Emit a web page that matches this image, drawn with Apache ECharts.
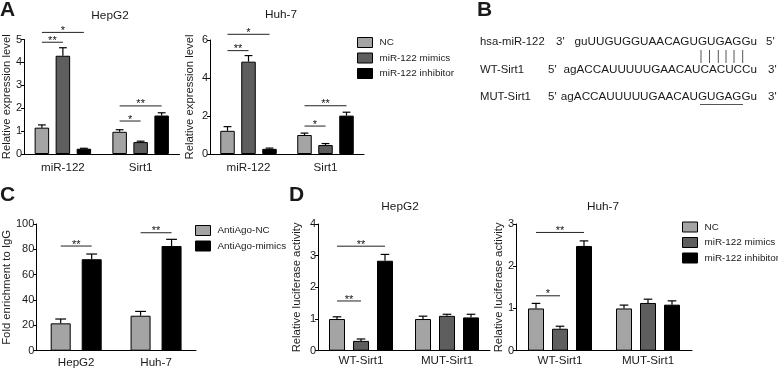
<!DOCTYPE html>
<html>
<head>
<meta charset="utf-8">
<script src="https://cdn.jsdelivr.net/npm/echarts@6/dist/echarts.min.js"></script>
<style>html,body{margin:0;padding:0;background:#fff}#main{width:778px;height:370px}</style>
</head>
<body>
<div id="main"></div>
<script>
var FONT = '"Liberation Sans", Arial, sans-serif';
var TXT = '#1a1a1a';
var GRAY = '#a4a4a4', DARK = '#5e5e5e', BLACK = '#000000';

// categories / names
var groupsA = ['miR-122', 'Sirt1'];
var groupsC = ['HepG2', 'Huh-7'];
var groupsD = ['WT-Sirt1', 'MUT-Sirt1'];
var namesA = ['NC', 'miR-122 mimics', 'miR-122 inhibitor'];
var namesC = ['AntiAgo-NC', 'AntiAgo-mimics'];

// A - HepG2 (mean, sd)
var aHepNC = [1.15, 0.97], aHepNCsd = [0.12, 0.09];
var aHepMim = [4.29, 0.52], aHepMimsd = [0.35, 0.04];
var aHepInh = [0.23, 1.68], aHepInhsd = [0.02, 0.12];
// A - Huh-7
var aHuhNC = [1.22, 1.0], aHuhNCsd = [0.22, 0.1];
var aHuhMim = [4.86, 0.47], aHuhMimsd = [0.32, 0.08];
var aHuhInh = [0.27, 2.02], aHuhInhsd = [0.04, 0.18];
// C
var cNC = [21.6, 27.6], cNCsd = [3.4, 3.4];
var cMim = [72.2, 82.6], cMimsd = [4.1, 5.3];
// D - HepG2
var dHepNC = [1.0, 1.0], dHepNCsd = [0.07, 0.09];
var dHepMim = [0.31, 1.1], dHepMimsd = [0.06, 0.05];
var dHepInh = [2.84, 1.05], dHepInhsd = [0.2, 0.1];
// D - Huh-7
var dHuhNC = [1.0, 1.0], dHuhNCsd = [0.12, 0.08];
var dHuhMim = [0.52, 1.13], dHuhMimsd = [0.06, 0.09];
var dHuhInh = [2.48, 1.09], dHuhInhsd = [0.12, 0.09];

// significance: [category, fromBar, toBar, y, stars]
var sigAHep = [[0, 0, 1, 4.88, 2], [0, 0, 2, 5.31, 1], [1, 0, 1, 1.44, 1], [1, 0, 2, 2.1, 2]];
var sigAHuh = [[0, 0, 1, 5.44, 2], [0, 0, 2, 6.3, 1], [1, 0, 1, 1.47, 1], [1, 0, 2, 2.54, 2]];
var sigC = [[0, 0, 1, 82.6, 2], [1, 0, 1, 93.1, 2]];
var sigDHep = [[0, 0, 1, 1.57, 2], [0, 0, 2, 3.3, 2]];
var sigDHuh = [[0, 0, 1, 1.3, 1], [0, 0, 2, 2.8, 2]];

var chart = echarts.init(document.getElementById('main'));

function slot(k, n, w, gap) {
  return (k - (n - 1) / 2) * (w + gap);
}

function errRender(k, n, w, gap) {
  return function (params, api) {
    var c = api.value(0), v = api.value(1), s = api.value(2);
    var p0 = api.coord([c, v]);
    var p1 = api.coord([c, v + s]);
    var x = p0[0] + slot(k, n, w, gap);
    var cap = w * 0.27;
    return {
      type: 'group',
      children: [
        { type: 'line', shape: { x1: x, y1: p0[1], x2: x, y2: p1[1] }, style: { stroke: '#000', lineWidth: 1.2 } },
        { type: 'line', shape: { x1: x - cap, y1: p1[1], x2: x + cap, y2: p1[1] }, style: { stroke: '#000', lineWidth: 1.2 } }
      ]
    };
  };
}

function sigRender(n, w, gap) {
  return function (params, api) {
    var p = api.coord([api.value(0), api.value(3)]);
    var x1 = p[0] + slot(api.value(1), n, w, gap);
    var x2 = p[0] + slot(api.value(2), n, w, gap);
    var stars = api.value(4) == 2 ? '**' : '*';
    return {
      type: 'group',
      children: [
        { type: 'line', shape: { x1: x1, y1: p[1], x2: x2, y2: p[1] }, style: { stroke: '#222', lineWidth: 1 } },
        { type: 'text', x: (x1 + x2) / 2, y: p[1] - 1.5,
          style: { text: stars, fill: '#111', fontSize: 11, fontFamily: FONT, align: 'center', verticalAlign: 'middle' } }
      ]
    };
  };
}

function panel(idx, means, sds, colors, names, w, gap, sigs) {
  var n = means.length;
  var out = [];
  means.forEach(function (m, k) {
    out.push({
      type: 'bar', name: names[k], xAxisIndex: idx, yAxisIndex: idx, data: m,
      barWidth: w, barGap: (gap / w * 100) + '%', silent: true,
      itemStyle: { color: colors[k], borderColor: '#000', borderWidth: 1 }
    });
    out.push({
      type: 'custom', xAxisIndex: idx, yAxisIndex: idx, clip: false, silent: true, z: 3,
      data: m.map(function (v, c) { return [c, v, sds[k][c]]; }),
      encode: { x: 0, y: 1 },
      renderItem: errRender(k, n, w, gap)
    });
  });
  out.push({
    type: 'custom', xAxisIndex: idx, yAxisIndex: idx, clip: false, silent: true, z: 3,
    data: sigs, encode: { x: 0, y: 3 },
    renderItem: sigRender(n, w, gap)
  });
  return out;
}

function xAx(idx, cats, margin) {
  return {
    type: 'category', gridIndex: idx, data: cats,
    axisLine: { lineStyle: { color: '#000', width: 1 } },
    axisTick: { alignWithLabel: true, length: 4, lineStyle: { color: '#000' } },
    axisLabel: { color: TXT, fontSize: 11.6, fontFamily: FONT, margin: margin }
  };
}

function yAx(idx, max, interval, name, gapN) {
  return {
    type: 'value', gridIndex: idx, min: 0, max: max, interval: interval,
    name: name, nameLocation: 'middle', nameGap: gapN,
    nameTextStyle: { color: TXT, fontSize: 11.3, fontFamily: FONT },
    axisLine: { show: true, lineStyle: { color: '#000', width: 1 } },
    axisTick: { show: true, length: 3, lineStyle: { color: '#000' } },
    axisLabel: { color: TXT, fontSize: 11, fontFamily: FONT, margin: 2 },
    splitLine: { show: false }
  };
}

function txt(x, y, s, size, align, bold) {
  return {
    type: 'text', x: x, y: y,
    style: { text: s, fill: TXT, fontSize: size, fontFamily: FONT, fontWeight: bold ? 'bold' : 'normal',
      align: align || 'left', verticalAlign: 'middle' }
  };
}

function seg(x1, y1, x2, y2) {
  return { type: 'line', shape: { x1: x1, y1: y1, x2: x2, y2: y2 }, style: { stroke: '#555', lineWidth: 1 } };
}

var colors3 = [GRAY, DARK, BLACK];
var colors2 = [GRAY, BLACK];

var series = [].concat(
  panel(0, [aHepNC, aHepMim, aHepInh], [aHepNCsd, aHepMimsd, aHepInhsd], colors3, namesA, 14.5, 6.5, sigAHep),
  panel(1, [aHuhNC, aHuhMim, aHuhInh], [aHuhNCsd, aHuhMimsd, aHuhInhsd], colors3, namesA, 14.5, 6.5, sigAHuh),
  panel(2, [cNC, cMim], [cNCsd, cMimsd], colors2, namesC, 20, 11, sigC),
  panel(3, [dHepNC, dHepMim, dHepInh], [dHepNCsd, dHepMimsd, dHepInhsd], colors3, namesA, 16, 8, sigDHep),
  panel(4, [dHuhNC, dHuhMim, dHuhInh], [dHuhNCsd, dHuhMimsd, dHuhInhsd], colors3, namesA, 16, 8, sigDHuh)
);

var legendBase = {
  orient: 'vertical', icon: 'rect', itemWidth: 15, itemHeight: 10, itemGap: 4.5,
  padding: 0, selectedMode: false,
  itemStyle: { borderColor: '#000', borderWidth: 1 },
  textStyle: { color: TXT, fontSize: 9.9, fontFamily: FONT, padding: [0, 0, 0, 2] }
};

var seqLines = [];
[701, 709.5, 718.3, 726, 734, 742.7].forEach(function (x) { seqLines.push(seg(x, 50, x, 63)); });

var option = {
  animation: false,
  grid: [
    { left: 22.5, top: 39.5, width: 157, height: 114.5 },
    { left: 210, top: 40, width: 154, height: 114 },
    { left: 31, top: 224, width: 165, height: 126.7 },
    { left: 318, top: 224, width: 172, height: 126.7 },
    { left: 516, top: 224, width: 176, height: 126.7 }
  ],
  xAxis: [xAx(0, groupsA, 8), xAx(1, groupsA, 8), xAx(2, groupsC, 6), xAx(3, groupsD, 4), xAx(4, groupsD, 4)],
  yAxis: [
    yAx(0, 5, 1, 'Relative expression level', 7),
    yAx(1, 6, 2, 'Relative expression level', 15),
    yAx(2, 100, 20, 'Fold enrichment to IgG', 18),
    yAx(3, 4, 1, 'Relative luciferase activity', 16),
    yAx(4, 3, 1, 'Relative luciferase activity', 6)
  ],
  legend: [
    Object.assign({}, legendBase, { left: 357, top: 37, data: namesA }),
    Object.assign({}, legendBase, { left: 195, top: 225, data: namesC }),
    Object.assign({}, legendBase, { left: 682, top: 221.5, data: namesA })
  ],
  series: series,
  graphic: [
    txt(0, 10, 'A', 21, 'left', true),
    txt(477, 10, 'B', 21, 'left', true),
    txt(0, 195, 'C', 21, 'left', true),
    txt(289, 195, 'D', 21, 'left', true),
    txt(110, 16, 'HepG2', 11.8, 'center'),
    txt(281, 15, 'Huh-7', 11.8, 'center'),
    txt(400, 207, 'HepG2', 11.8, 'center'),
    txt(603, 207, 'Huh-7', 11.8, 'center'),
    txt(480, 42, 'hsa-miR-122', 11.3),
    txt(556, 42, "3'", 11.5),
    txt(757, 42, 'guUUGUGGUAACAGUGUGAGGu', 11.7, 'right'),
    txt(766, 42, "5'", 11.5),
    txt(480, 70, 'WT-Sirt1', 11.3),
    txt(548, 70, "5'", 11.5),
    txt(757, 70, 'agACCAUUUUUGAACAUCACUCCu', 11.7, 'right'),
    txt(768, 70, "3'", 11.5),
    txt(480, 97, 'MUT-Sirt1', 11.3),
    txt(548, 97, "5'", 11.5),
    txt(757, 97, 'agACCAUUUUUGAACAUGUGAGGu', 11.7, 'right'),
    txt(768, 97, "3'", 11.5),
    seg(700, 104.5, 743, 104.5)
  ].concat(seqLines)
};

chart.setOption(option);
</script>
</body>
</html>
